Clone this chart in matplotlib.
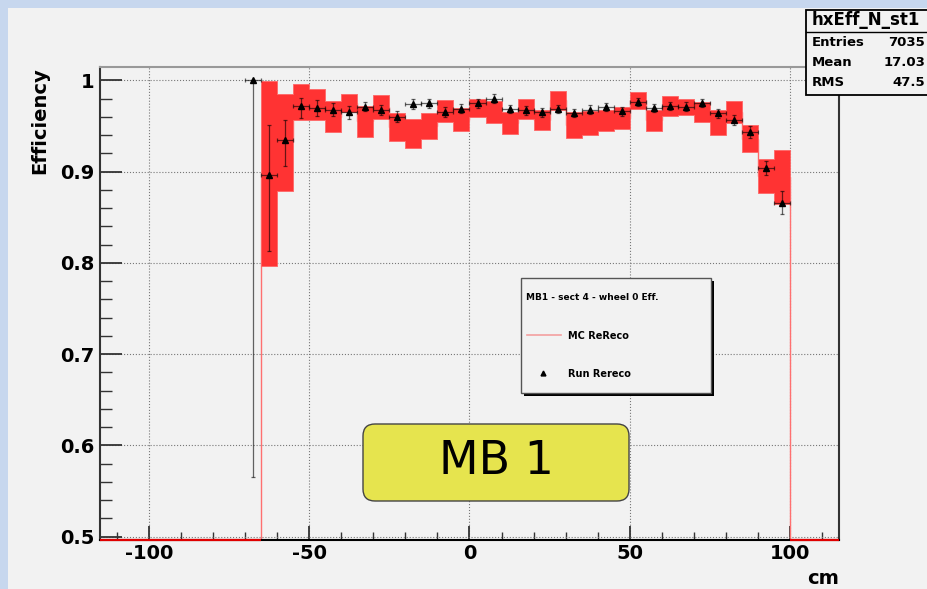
import matplotlib
matplotlib.use("Agg")
import matplotlib.pyplot as plt
from matplotlib.patches import Rectangle, FancyBboxPatch
from matplotlib.lines import Line2D
from matplotlib.transforms import IdentityTransform
import numpy as np

plt.rcParams['font.family'] = ['DejaVu Sans']
plt.rcParams['axes.unicode_minus'] = False

# MC ReReco efficiency, 5 cm bins from -65 to 100 cm, band = +/- error
mc_edges = np.arange(-65, 101, 5)
mc_eff = [0.898, 0.932, 0.976, 0.974, 0.960, 0.975, 0.955, 0.971, 0.949, 0.942,
          0.950, 0.966, 0.957, 0.970, 0.965, 0.953, 0.969, 0.957, 0.978, 0.951,
          0.953, 0.956, 0.959, 0.978, 0.956, 0.972, 0.971, 0.965, 0.954, 0.965,
          0.936, 0.895, 0.894]
mc_err = [0.101, 0.053, 0.020, 0.017, 0.017, 0.010, 0.017, 0.013, 0.015, 0.016,
          0.014, 0.012, 0.013, 0.010, 0.012, 0.012, 0.011, 0.011, 0.010, 0.014,
          0.013, 0.012, 0.012, 0.009, 0.012, 0.011, 0.009, 0.011, 0.014, 0.012,
          0.015, 0.019, 0.030]

# Run Rereco points at bin centres
run_x = [-67.5, -62.5, -57.5, -52.5, -47.5, -42.5, -37.5, -32.5, -27.5, -22.5,
         -17.5, -12.5, -7.5, -2.5, 2.5, 7.5, 12.5, 17.5, 22.5, 27.5,
         32.5, 37.5, 42.5, 47.5, 52.5, 57.5, 62.5, 67.5, 72.5, 77.5,
         82.5, 87.5, 92.5, 97.5]
run_eff = [1.000, 0.896, 0.935, 0.972, 0.970, 0.968, 0.965, 0.971, 0.968, 0.960,
           0.974, 0.975, 0.965, 0.969, 0.975, 0.980, 0.969, 0.967, 0.965, 0.969,
           0.964, 0.968, 0.971, 0.966, 0.976, 0.970, 0.972, 0.971, 0.975, 0.964,
           0.956, 0.943, 0.904, 0.866]
run_err_lo = [0.435, 0.083, 0.029, 0.013, 0.009, 0.007, 0.007, 0.005, 0.0055, 0.006,
              0.005, 0.005, 0.0055, 0.005, 0.005, 0.0045, 0.0045, 0.005, 0.005, 0.0045,
              0.0045, 0.005, 0.0045, 0.005, 0.0045, 0.0045, 0.0045, 0.005, 0.004, 0.005,
              0.0055, 0.0065, 0.0075, 0.0125]
run_err_hi = [0.0, 0.055, 0.022, 0.009, 0.008, 0.007, 0.007, 0.005, 0.0055, 0.006,
              0.005, 0.005, 0.0055, 0.005, 0.005, 0.0045, 0.0045, 0.005, 0.005, 0.0045,
              0.0045, 0.005, 0.0045, 0.005, 0.0045, 0.0045, 0.0045, 0.005, 0.004, 0.005,
              0.0055, 0.0065, 0.0075, 0.0125]

x_range = (-115.3, 115.3)
y_range = (0.4963, 1.0146)
x_major = [-100, -50, 0, 50, 100]
y_major = [0.5, 0.6, 0.7, 0.8, 0.9, 1.0]
y_labels = ['0.5', '0.6', '0.7', '0.8', '0.9', '1']

stats = [('Entries', '7035'), ('Mean', '17.03'), ('RMS', '47.5')]

W, H = 927, 589
fig = plt.figure(figsize=(W / 100, H / 100), dpi=100, facecolor='#c7d7ee')
pix = IdentityTransform()


def P(x, y):
    # pixel position measured from the top-left corner
    return x, H - y


# pad
fig.add_artist(Rectangle((8, 0), W - 8, H - 8, transform=pix,
                         facecolor='#f2f2f2', edgecolor='none', zorder=-10))

ax = fig.add_axes([100 / W, (H - 540) / H, (839 - 100) / W, (540 - 67) / H])
ax.set_facecolor('none')
ax.set_xlim(*x_range)
ax.set_ylim(*y_range)

mc_eff = np.array(mc_eff)
mc_err = np.array(mc_err)

# histogram outline, mostly hidden under the band
ax.stairs(mc_eff, mc_edges, baseline=y_range[0], color='#ff7070', lw=1.0, zorder=1)
ax.hlines([y_range[0], y_range[0]], [x_range[0], mc_edges[-1]], [mc_edges[0], x_range[1]],
          color='#e00000', lw=1.6, clip_on=False, zorder=5)
band_lo = np.append(mc_eff - mc_err, (mc_eff - mc_err)[-1])
band_hi = np.append(mc_eff + mc_err, (mc_eff + mc_err)[-1])
ax.fill_between(mc_edges, band_lo, band_hi, step='post', color='#ff3333',
                edgecolor='#ff6666', lw=0.6, zorder=1.5)

ax.errorbar(run_x, run_eff, yerr=[run_err_lo, run_err_hi], xerr=2.5, fmt='^',
            color='black', ms=4.5, ecolor=(0, 0, 0, 0.6), elinewidth=0.9,
            capsize=1.5, capthick=0.9, zorder=4)

ax.set_xticks(x_major)
ax.set_xticks(np.arange(-110, 115, 10), minor=True)
ax.set_yticks(y_major)
ax.set_yticklabels(y_labels)
ax.set_yticks(np.arange(0.52, 1.01, 0.02), minor=True)
for lab in ax.get_xticklabels() + ax.get_yticklabels():
    lab.set_fontweight('bold')
    lab.set_fontsize(14)
ax.tick_params(axis='both', which='both', direction='in', colors='#333333')
ax.tick_params(axis='y', which='major', length=16, width=1.3, pad=4, labelcolor='black')
ax.tick_params(axis='y', which='minor', length=8.5, width=1.0)
ax.tick_params(axis='x', which='major', length=10, width=1.3, pad=3, labelcolor='black')
ax.tick_params(axis='x', which='minor', length=5.5, width=1.0)

ax.grid(True, which='major', ls=':', color='#777777', lw=0.8)
ax.set_axisbelow(True)

ax.spines['left'].set_color('#333333')
ax.spines['bottom'].set_color('black')
ax.spines['top'].set_color('#999999')
ax.spines['right'].set_color('#333333')
for s in ax.spines.values():
    s.set_linewidth(1.5)

fig.text(40 / W, 1 - 67 / H, 'Efficiency', rotation=90, ha='center', va='top',
         fontsize=14, fontweight='bold')
fig.text(839 / W, 1 - 578 / H, 'cm', ha='right', va='center',
         fontsize=14, fontweight='bold')

# statistics box
fig.add_artist(Rectangle(P(806, 95), 140, 85, transform=pix, facecolor='#f2f2f2',
                         edgecolor='black', lw=1.3, zorder=6))
fig.add_artist(Line2D([806, 930], [H - 32, H - 32], transform=pix, color='black',
                      lw=1.0, zorder=7))
fig.text(812 / W, 1 - 20 / H, 'hxEff_N_st1', ha='left', va='center',
         fontsize=12, fontweight='bold', zorder=8)
for i, (name, val) in enumerate(stats):
    y = 43 + 20 * i
    fig.text(812 / W, 1 - y / H, name, ha='left', va='center',
             fontsize=9.5, fontweight='bold', zorder=8)
    fig.text(925 / W, 1 - y / H, val, ha='right', va='center',
             fontsize=9.5, fontweight='bold', zorder=8)

# legend box with drop shadow
fig.add_artist(Rectangle(P(524, 396), 190, 115, transform=pix, facecolor='black',
                         edgecolor='none', zorder=6))
fig.add_artist(Rectangle(P(521, 393), 190, 115, transform=pix, facecolor='#f2f2f2',
                         edgecolor='#555555', lw=1.0, zorder=7))
fig.text(526 / W, 1 - 297 / H, 'MB1 - sect 4 - wheel 0 Eff.', ha='left', va='center',
         fontsize=6.5, fontweight='bold', zorder=8)
fig.add_artist(Line2D([527, 561], [H - 335, H - 335], transform=pix,
                      color='#f4a0a0', lw=1.2, zorder=8))
fig.text(568 / W, 1 - 336 / H, 'MC ReReco', ha='left', va='center',
         fontsize=7, fontweight='bold', zorder=8)
fig.add_artist(Line2D([543], [H - 373], transform=pix, marker='^', ms=3.5,
                      color='black', lw=0, zorder=8))
fig.text(568 / W, 1 - 374 / H, 'Run Rereco', ha='left', va='center',
         fontsize=7, fontweight='bold', zorder=8)

# chamber label
fig.add_artist(FancyBboxPatch(P(373, 491), 246, 57, transform=pix,
                              boxstyle='round,pad=10,rounding_size=12',
                              facecolor='#e6e44e', edgecolor='#444444', lw=1.0,
                              zorder=6))
fig.text(496 / W, 1 - 462 / H, 'MB 1', ha='center', va='center',
         fontsize=33, zorder=8)

fig.savefig('out.png', dpi=100, facecolor=fig.get_facecolor())
